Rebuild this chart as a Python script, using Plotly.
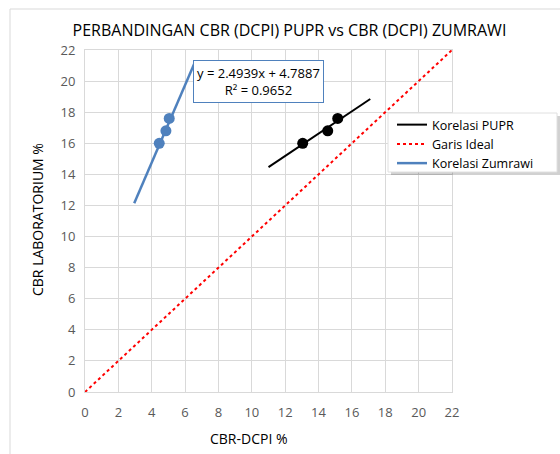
import numpy as np
import plotly.graph_objects as go

# Data
pupr_x = [13.05, 14.55, 15.15]
pupr_y = [16.0, 16.8, 17.6]
zum_x = [4.45, 4.85, 5.05]
zum_y = [16.0, 16.8, 17.6]
zum_slope = 2.4939
zum_intercept = 4.7887
zum_trend_range = [2.95, 6.6]
pupr_trend_range = [11.0, 17.1]
ideal_range = [0, 22]
tick_vals = list(range(0, 23, 2))

FONT = "Open Sans"
fig = go.Figure()

# PUPR trend
p = np.polyfit(pupr_x, pupr_y, 1)
tx = np.array(pupr_trend_range)
fig.add_trace(go.Scatter(x=tx, y=np.polyval(p, tx), mode="lines",
                         line=dict(color="black", width=2), name="Korelasi PUPR"))
# Ideal
fig.add_trace(go.Scatter(x=ideal_range, y=ideal_range, mode="lines",
                         line=dict(color="#FF0000", width=2, dash="dot"), name="Garis Ideal"))
# Zumrawi trend
zx = np.array(zum_trend_range)
fig.add_trace(go.Scatter(x=zx, y=zum_slope * zx + zum_intercept, mode="lines",
                         line=dict(color="#4F81BD", width=2.5), name="Korelasi Zumrawi"))
# points
fig.add_trace(go.Scatter(x=pupr_x, y=pupr_y, mode="markers",
                         marker=dict(color="black", size=11), showlegend=False))
fig.add_trace(go.Scatter(x=zum_x, y=zum_y, mode="markers",
                         marker=dict(color="#4F81BD", size=11), showlegend=False))

fig.add_annotation(x=10.43, y=19.97, xref="x", yref="y",
                   text=f"y = {zum_slope}x + {zum_intercept}<br>R² = 0.9652",
                   showarrow=False, font=dict(family=FONT, size=13, color="black"),
                   bordercolor="#4F81BD", borderwidth=1, borderpad=3, bgcolor="white")

# axis titles as annotations
fig.add_annotation(x=(249 - 85) / 367, y=(392 - 438) / 342, xref="paper", yref="paper",
                   text="CBR-DCPI %", showarrow=False, xanchor="center", yanchor="middle",
                   font=dict(family=FONT, size=14, color="black"))
fig.add_annotation(x=(37 - 85) / 367, y=(392 - 220) / 342, xref="paper", yref="paper",
                   text="CBR LABORATORIUM %", showarrow=False, textangle=-90,
                   xanchor="center", yanchor="middle",
                   font=dict(family=FONT, size=14, color="black"))

axis_common = dict(range=[0, 22], tickvals=tick_vals, showgrid=True, gridcolor="#D9D9D9",
                   gridwidth=1, zeroline=False, showline=True, linecolor="#D9D9D9",
                   mirror=True, ticks="", tickfont=dict(family=FONT, size=13, color="#595959"))

lx0, lx1 = (388 - 85) / 367, (557 - 85) / 367
ly0, ly1 = (392 - 172) / 342, (392 - 113) / 342
sh = 3
fig.update_layout(
    width=560, height=454,
    margin=dict(l=85, r=108, t=50, b=62),
    paper_bgcolor="white", plot_bgcolor="white",
    title=dict(text="PERBANDINGAN CBR (DCPI) PUPR vs CBR (DCPI) ZUMRAWI",
               x=(312 - 0) / 560, xanchor="center", xref="paper", y=1 - 30 / 454, yanchor="middle",
               font=dict(family=FONT, size=16, color="black")),
    xaxis=dict(axis_common, ticklabelstandoff=8),
    yaxis=dict(axis_common, ticklabelstandoff=6),
    legend=dict(x=(392 - 85) / 367, y=ly1 + 3 / 342, xanchor="left", yanchor="top",
                bgcolor="rgba(0,0,0,0)", borderwidth=0,
                font=dict(family=FONT, size=12.5, color="black"), tracegroupgap=0),
    shapes=[
        dict(type="rect", xref="paper", yref="paper", x0=(10 - 85) / 367, x1=1.5,
             y0=-0.3, y1=(392 - 9) / 342,
             line=dict(color="#D9D9D9", width=1), fillcolor="rgba(0,0,0,0)", layer="below"),
        dict(type="rect", xref="paper", yref="paper", x0=lx0 + sh / 367, x1=lx1 + sh / 367,
             y0=ly0 - sh / 342, y1=ly1 - sh / 342,
             line=dict(width=0), fillcolor="rgba(0,0,0,0.18)", layer="above"),
        dict(type="rect", xref="paper", yref="paper", x0=lx0, x1=lx1,
             y0=ly0, y1=ly1,
             line=dict(color="#E0E0E0", width=1), fillcolor="white", layer="above"),
    ],
)

fig.write_html("out.html")
